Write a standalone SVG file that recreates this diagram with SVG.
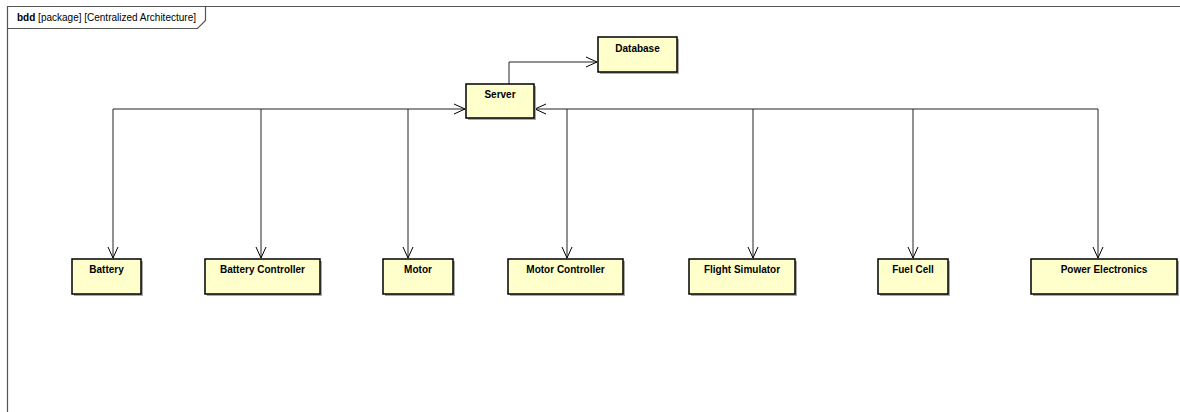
<svg xmlns="http://www.w3.org/2000/svg" width="1180" height="412" viewBox="0 0 1180 412">
<style>
.frame{fill:none;stroke:#555;stroke-width:1.2}
.box{fill:#FFFFCC;stroke:#000;stroke-width:1.5}
.shadow{fill:#aaa}
.lbl{font-family:"Liberation Sans",Arial,sans-serif;font-size:10px;font-weight:bold;text-anchor:middle;fill:#000}
.hdr{font-family:"Liberation Sans",Arial,sans-serif;font-size:10px;fill:#000}
.conn{fill:none;stroke:#222;stroke-width:1}
</style>
<defs>
<marker id="open" viewBox="0 0 12 12" refX="11" refY="6" markerWidth="12" markerHeight="12" markerUnits="userSpaceOnUse" orient="auto">
<path d="M0,1 L11,6 L0,11" fill="none" stroke="#000" stroke-width="1"/>
</marker>
</defs>
<g id="frame">
<path class="frame" d="M7.5,412 V6.5 H1180"/>
<path class="frame" d="M7.5,28.5 H197.5 L205.5,20.5 V6.5"/>
<text class="hdr" x="17" y="21"><tspan font-weight="bold">bdd</tspan> [package] [Centralized Architecture]</text>
</g>
<g id="connectors">
<path class="conn" d="M509,84 V62 H597" marker-end="url(#open)"/>
<path class="conn" d="M113,109 H465" marker-end="url(#open)"/>
<path class="conn" d="M1098,109 H535" marker-end="url(#open)"/>
<path class="conn" d="M113,109 V258" marker-end="url(#open)"/>
<path class="conn" d="M261,109 V258" marker-end="url(#open)"/>
<path class="conn" d="M408,109 V258" marker-end="url(#open)"/>
<path class="conn" d="M567,109 V258" marker-end="url(#open)"/>
<path class="conn" d="M753,109 V258" marker-end="url(#open)"/>
<path class="conn" d="M913,109 V258" marker-end="url(#open)"/>
<path class="conn" d="M1098,109 V258" marker-end="url(#open)"/>
</g>
<g id="server">
<rect class="shadow" x="468" y="86" width="68" height="34"/>
<rect class="box" x="466" y="84" width="68" height="34"/>
<text class="lbl" x="500" y="98">Server</text>
</g>
<g id="database">
<rect class="shadow" x="600" y="39" width="79" height="35"/>
<rect class="box" x="598" y="37" width="79" height="35"/>
<text class="lbl" x="637.5" y="52">Database</text>
</g>
<g id="battery">
<rect class="shadow" x="74" y="261" width="69" height="35"/>
<rect class="box" x="72" y="259" width="69" height="35"/>
<text class="lbl" x="106.5" y="273">Battery</text>
</g>
<g id="battery-controller">
<rect class="shadow" x="207" y="261" width="115" height="35"/>
<rect class="box" x="205" y="259" width="115" height="35"/>
<text class="lbl" x="262.5" y="273">Battery Controller</text>
</g>
<g id="motor">
<rect class="shadow" x="385" y="261" width="70" height="35"/>
<rect class="box" x="383" y="259" width="70" height="35"/>
<text class="lbl" x="418" y="273">Motor</text>
</g>
<g id="motor-controller">
<rect class="shadow" x="510" y="261" width="115" height="35"/>
<rect class="box" x="508" y="259" width="115" height="35"/>
<text class="lbl" x="565.5" y="273">Motor Controller</text>
</g>
<g id="flight-simulator">
<rect class="shadow" x="691" y="261" width="106" height="35"/>
<rect class="box" x="689" y="259" width="106" height="35"/>
<text class="lbl" x="742" y="273">Flight Simulator</text>
</g>
<g id="fuel-cell">
<rect class="shadow" x="880" y="261" width="70" height="35"/>
<rect class="box" x="878" y="259" width="70" height="35"/>
<text class="lbl" x="913" y="273">Fuel Cell</text>
</g>
<g id="power-electronics">
<rect class="shadow" x="1033" y="261" width="146" height="35"/>
<rect class="box" x="1031" y="259" width="146" height="35"/>
<text class="lbl" x="1104" y="273">Power Electronics</text>
</g>
</svg>
